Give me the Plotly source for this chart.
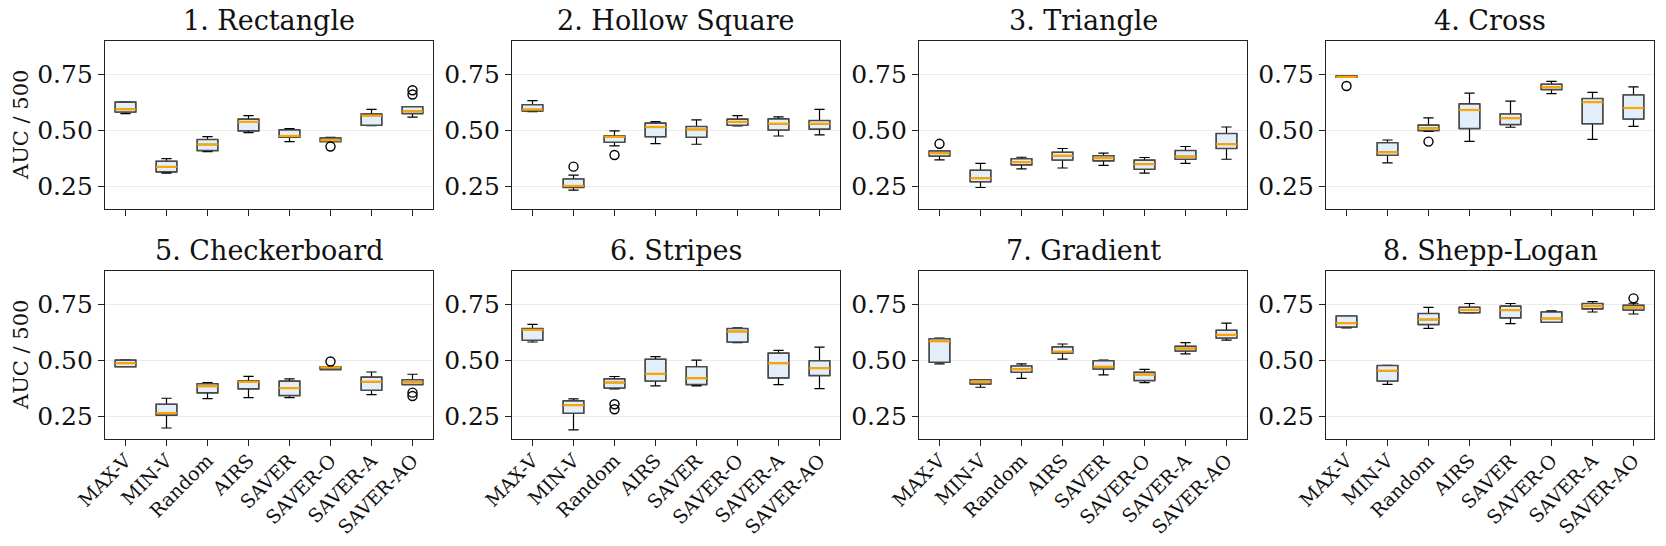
import plotly.graph_objects as go

METHODS = ["MAX-V", "MIN-V", "Random", "AIRS", "SAVER", "SAVER-O", "SAVER-A", "SAVER-AO"]
PANELS = ["1. Rectangle", "2. Hollow Square", "3. Triangle", "4. Cross",
          "5. Checkerboard", "6. Stripes", "7. Gradient", "8. Shepp-Logan"]

WHISK_LO = [
    [0.576, 0.310, 0.406, 0.491, 0.451, 0.451, 0.522, 0.560],
    [0.585, 0.234, 0.432, 0.442, 0.439, 0.521, 0.476, 0.481],
    [0.369, 0.246, 0.329, 0.333, 0.345, 0.310, 0.354, 0.372],
    [0.738, 0.356, 0.496, 0.452, 0.515, 0.665, 0.461, 0.519],
    [0.473, 0.199, 0.330, 0.335, 0.335, 0.460, 0.348, 0.393],
    [0.583, 0.191, 0.374, 0.387, 0.387, 0.580, 0.393, 0.375],
    [0.485, 0.381, 0.421, 0.507, 0.436, 0.402, 0.530, 0.591],
    [0.646, 0.394, 0.644, 0.713, 0.665, 0.670, 0.717, 0.708],
]
Q1 = [
    [0.583, 0.316, 0.411, 0.499, 0.470, 0.451, 0.524, 0.576],
    [0.588, 0.246, 0.448, 0.473, 0.470, 0.524, 0.503, 0.507],
    [0.387, 0.272, 0.347, 0.369, 0.365, 0.327, 0.372, 0.420],
    [0.738, 0.390, 0.500, 0.509, 0.527, 0.683, 0.531, 0.552],
    [0.473, 0.257, 0.356, 0.374, 0.344, 0.460, 0.368, 0.393],
    [0.591, 0.265, 0.378, 0.409, 0.393, 0.583, 0.423, 0.433],
    [0.493, 0.396, 0.448, 0.533, 0.463, 0.411, 0.543, 0.601],
    [0.650, 0.409, 0.661, 0.714, 0.691, 0.671, 0.731, 0.726],
]
MEDIAN = [
    [0.595, 0.338, 0.438, 0.539, 0.476, 0.457, 0.567, 0.586],
    [0.594, 0.253, 0.472, 0.516, 0.505, 0.539, 0.531, 0.531],
    [0.399, 0.287, 0.359, 0.388, 0.377, 0.350, 0.384, 0.439],
    [0.740, 0.403, 0.510, 0.592, 0.555, 0.694, 0.627, 0.601],
    [0.488, 0.266, 0.385, 0.405, 0.377, 0.470, 0.406, 0.403],
    [0.637, 0.301, 0.402, 0.441, 0.421, 0.630, 0.488, 0.466],
    [0.586, 0.405, 0.461, 0.540, 0.473, 0.438, 0.554, 0.615],
    [0.667, 0.455, 0.683, 0.726, 0.725, 0.688, 0.743, 0.737],
]
Q3 = [
    [0.627, 0.363, 0.460, 0.551, 0.503, 0.467, 0.574, 0.606],
    [0.615, 0.284, 0.476, 0.533, 0.518, 0.551, 0.552, 0.545],
    [0.409, 0.323, 0.374, 0.403, 0.388, 0.368, 0.411, 0.487],
    [0.744, 0.446, 0.524, 0.619, 0.574, 0.707, 0.643, 0.659],
    [0.502, 0.305, 0.397, 0.409, 0.408, 0.473, 0.426, 0.414],
    [0.643, 0.320, 0.418, 0.506, 0.473, 0.643, 0.533, 0.499],
    [0.598, 0.414, 0.476, 0.561, 0.499, 0.448, 0.564, 0.635],
    [0.699, 0.478, 0.710, 0.738, 0.743, 0.717, 0.755, 0.747],
]
WHISK_HI = [
    [0.628, 0.375, 0.473, 0.567, 0.509, 0.470, 0.595, 0.607],
    [0.634, 0.301, 0.499, 0.540, 0.548, 0.567, 0.561, 0.595],
    [0.409, 0.354, 0.381, 0.420, 0.399, 0.380, 0.429, 0.516],
    [0.744, 0.458, 0.557, 0.667, 0.632, 0.720, 0.671, 0.695],
    [0.503, 0.332, 0.402, 0.430, 0.418, 0.473, 0.449, 0.439],
    [0.662, 0.329, 0.429, 0.518, 0.502, 0.646, 0.546, 0.560],
    [0.601, 0.415, 0.485, 0.574, 0.502, 0.461, 0.580, 0.667],
    [0.699, 0.479, 0.738, 0.755, 0.755, 0.722, 0.763, 0.756],
]
OUTLIERS = [
    [[], [], [], [], [], [0.429], [], [0.680, 0.661]],
    [[], [0.339], [0.391], [], [], [], [], []],
    [[0.441], [], [], [], [], [], [], []],
    [[0.699], [], [0.451], [], [], [], [], []],
    [[], [], [], [], [], [0.496], [], [0.357, 0.342]],
    [[], [], [0.305, 0.283], [], [], [], [], []],
    [[], [], [], [], [], [], [], []],
    [[], [], [], [], [], [], [], [0.778]],
]
Y_TICKS = [0.25, 0.50, 0.75]
Y_TICK_TEXT = ["0.25", "0.50", "0.75"]
Y_LABEL = "AUC / 500"

W, H = 1666, 546
FONT = "DejaVu Serif"
BOX_W = 0.5
COL_LEFT = [105, 512, 919, 1326]
PANEL_W = 328
ROW_TOP = [41, 271]
PANEL_H = 168

fig = go.Figure()
positions = list(range(1, len(METHODS) + 1))

for p in range(8):
    r, c = divmod(p, 4)
    n = p + 1
    xa = "x" if n == 1 else f"x{n}"
    ya = "y" if n == 1 else f"y{n}"
    # black whiskers (full extent)
    fig.add_trace(go.Box(
        x=positions, q1=Q1[p], median=MEDIAN[p], q3=Q3[p],
        lowerfence=WHISK_LO[p], upperfence=WHISK_HI[p],
        width=BOX_W, whiskerwidth=0.5, boxpoints=False,
        fillcolor="rgba(0,0,0,0)", line=dict(color="#000000", width=1.2),
        showlegend=False, xaxis=xa, yaxis=ya, hoverinfo="skip"))
    # gray-edged filled boxes
    fig.add_trace(go.Box(
        x=positions, q1=Q1[p], median=MEDIAN[p], q3=Q3[p],
        lowerfence=Q1[p], upperfence=Q3[p],
        width=BOX_W, whiskerwidth=0, boxpoints=False,
        fillcolor="#e2eef9", line=dict(color="#4a4a4a", width=1.5),
        showlegend=False, xaxis=xa, yaxis=ya, hoverinfo="skip"))
    # orange medians
    mx, my = [], []
    for pos, m in zip(positions, MEDIAN[p]):
        mx += [pos - BOX_W / 2, pos + BOX_W / 2, None]
        my += [m, m, None]
    fig.add_trace(go.Scatter(
        x=mx, y=my, mode="lines", line=dict(color="#ffa500", width=2.2),
        showlegend=False, xaxis=xa, yaxis=ya, hoverinfo="skip"))
    # outliers
    ox, oy = [], []
    for pos, outs in zip(positions, OUTLIERS[p]):
        for v in outs:
            ox.append(pos)
            oy.append(v)
    if ox:
        fig.add_trace(go.Scatter(
            x=ox, y=oy, mode="markers",
            marker=dict(symbol="circle-open", size=9, color="#000000", line=dict(width=1.4)),
            showlegend=False, xaxis=xa, yaxis=ya, hoverinfo="skip"))

    x0 = COL_LEFT[c] / W
    x1 = (COL_LEFT[c] + PANEL_W) / W
    y1 = 1 - ROW_TOP[r] / H
    y0 = 1 - (ROW_TOP[r] + PANEL_H) / H
    xkey = "xaxis" if n == 1 else f"xaxis{n}"
    ykey = "yaxis" if n == 1 else f"yaxis{n}"
    fig.layout[xkey] = dict(
        domain=[x0, x1], anchor=ya, range=[0.5, 8.5], automargin=False,
        tickmode="array", tickvals=positions, ticktext=METHODS,
        showticklabels=(r == 1), tickangle=-45, ticklabelstandoff=-4,
        ticks="outside", ticklen=6, tickcolor="#222", tickwidth=1.2,
        showline=True, mirror=True, linecolor="#222", linewidth=1.2,
        showgrid=False, zeroline=False,
        tickfont=dict(family=FONT, size=19, color="#111"))
    fig.layout[ykey] = dict(
        domain=[y0, y1], anchor=xa, range=[0.15, 0.90], automargin=False,
        tickmode="array", tickvals=Y_TICKS, ticktext=Y_TICK_TEXT,
        ticks="outside", ticklen=6, tickcolor="#222", tickwidth=1.2,
        showline=True, mirror=True, linecolor="#222", linewidth=1.2,
        showgrid=True, gridcolor="#ebebeb", gridwidth=1, zeroline=False,
        tickfont=dict(family=FONT, size=25, color="#111"))
    fig.add_annotation(
        text=PANELS[p], x=(x0 + x1) / 2, y=y1, xref="paper", yref="paper",
        xanchor="center", yanchor="bottom", yshift=3, showarrow=False,
        font=dict(family=FONT, size=27, color="#111"))
    if c == 0:
        fig.add_annotation(
            text=Y_LABEL, x=21 / W, y=(y0 + y1) / 2, xref="paper", yref="paper",
            xanchor="center", yanchor="middle", textangle=-90, showarrow=False,
            font=dict(family=FONT, size=21, color="#111"))

fig.update_layout(
    width=W, height=H, margin=dict(l=0, r=0, t=0, b=0, autoexpand=False),
    paper_bgcolor="white", plot_bgcolor="white", boxmode="overlay",
    font=dict(family=FONT))

fig.write_html("out.html")
